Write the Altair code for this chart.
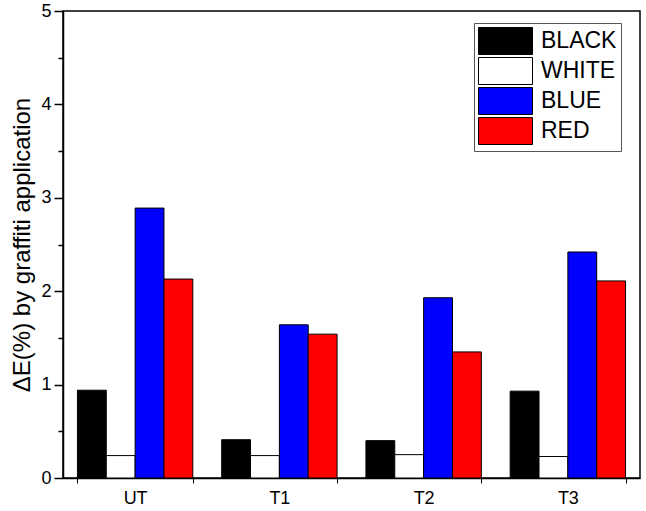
import altair as alt
import pandas as pd

groups = ["UT", "T1", "T2", "T3"]
colors = ["BLACK", "WHITE", "BLUE", "RED"]
black = [0.94, 0.41, 0.40, 0.93]
white = [0.24, 0.24, 0.25, 0.23]
blue = [2.89, 1.64, 1.93, 2.42]
red = [2.13, 1.54, 1.35, 2.11]
fills = ["#000000", "#ffffff", "#0000ff", "#ff0000"]

rows = []
for name, vals in zip(colors, [black, white, blue, red]):
    for g, v in zip(groups, vals):
        rows.append({"group": g, "color": name, "value": v})
df = pd.DataFrame(rows)

y_ticks = [i * 0.5 for i in range(11)]

chart = alt.Chart(df).mark_bar(stroke="#000000", strokeWidth=1).encode(
    x=alt.X("group:N", sort=groups,
            scale=alt.Scale(paddingInner=0.2, paddingOuter=0.1),
            axis=alt.Axis(title=None, labelAngle=0, labelFontSize=18, labelFont="Liberation Sans",
                          labelColor="#000000", tickBand="extent", tickSize=5, tickColor="#000000",
                          domainColor="#000000", domainWidth=1.5, labelPadding=6)),
    xOffset=alt.XOffset("color:N", sort=colors, scale=alt.Scale(paddingInner=0, paddingOuter=0)),
    y=alt.Y("value:Q", scale=alt.Scale(domain=[0, 5], nice=False),
            axis=alt.Axis(values=y_ticks, title="ΔE(%) by graffiti application",
                          titleFontSize=24, titleFont="Liberation Sans", titleFontWeight="normal",
                          titleColor="#000000", titlePadding=6,
                          labelFontSize=18, labelFont="Liberation Sans", labelColor="#000000",
                          labelExpr="datum.value % 1 === 0 ? format(datum.value, 'd') : ''",
                          tickSize={"condition": {"test": "datum.value % 1 === 0", "value": 9}, "value": 5},
                          tickColor="#000000", tickWidth=1.5, domainColor="#000000", domainWidth=1.5,
                          grid=False, labelPadding=3)),
    color=alt.Color("color:N", sort=colors, scale=alt.Scale(domain=colors, range=fills),
                    legend=alt.Legend(title=None, orient="none", legendX=411, legendY=12,
                                      symbolType="M-1,-1H3V1H-1Z", symbolSize=729,
                                      symbolStrokeColor="#000000", symbolStrokeWidth=1,
                                      symbolOpacity=1,
                                      labelFontSize=23, labelFont="Liberation Sans", labelColor="#000000",
                                      labelOffset=35, rowPadding=-2, padding=4,
                                      strokeColor="#555555", fillColor="#ffffff")),
).properties(
    width=577, height=467,
    autosize=alt.AutoSizeParams(type="none"),
    padding={"left": 63, "top": 11, "right": 6, "bottom": 33},
).configure_view(stroke="#000000", strokeWidth=1.5)

chart.save("out.html", embed_options={"renderer": "svg", "actions": False})
